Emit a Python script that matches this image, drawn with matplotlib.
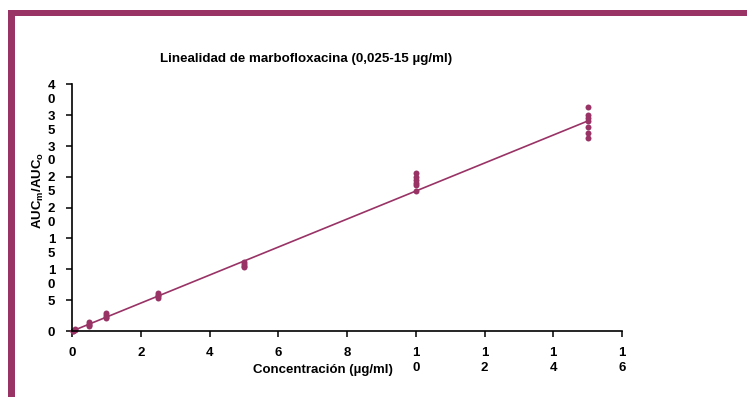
import matplotlib.pyplot as plt
import numpy as np
from matplotlib.patches import Rectangle
from matplotlib.transforms import ScaledTranslation

plt.rcParams['font.family'] = ['Liberation Sans', 'DejaVu Sans']
plt.rcParams['font.weight'] = 'bold'
plt.rcParams['mathtext.fontset'] = 'custom'
plt.rcParams['mathtext.rm'] = 'Liberation Sans:bold'
plt.rcParams['mathtext.bf'] = 'Liberation Sans:bold'

MAROON = '#993366'

# concentration levels (µg/ml) and replicate AUC ratios
conc_levels = [0.025, 0.1, 0.5, 1, 2.5, 5, 10, 15]
ratios = [
    [0.05, 0.08],
    [0.18, 0.25],
    [0.8, 1.0, 1.2, 1.4],
    [2.1, 2.3, 2.6, 2.9],
    [5.3, 5.6, 5.9, 6.2],
    [10.3, 10.6, 10.9, 11.2],
    [22.6, 23.6, 24.0, 24.5, 25.0, 25.6],
    [31.2, 32.1, 33.0, 34.0, 34.5, 35.0, 36.2],
]

# linear trend line
trend_slope = 2.268
trend_intercept = -0.02

x_ticks = [0, 2, 4, 6, 8, 10, 12, 14, 16]
x_labels = ['0', '2', '4', '6', '8', '1\n0', '1\n2', '1\n4', '1\n6']
y_ticks = [0, 5, 10, 15, 20, 25, 30, 35, 40]
y_labels = ['0', '5', '1\n0', '1\n5', '2\n0', '2\n5', '3\n0', '3\n5', '4\n0']

x = np.concatenate([[c] * len(r) for c, r in zip(conc_levels, ratios)])
y = np.concatenate(ratios)
x_fit = np.array([0, max(conc_levels)])

fig = plt.figure(figsize=(7.47, 4.07), dpi=100)
ax = fig.add_axes([72 / 747, 1 - 331 / 407, 550 / 747, 247 / 407])

ax.plot(x_fit, trend_slope * x_fit + trend_intercept, color=MAROON, lw=1.2,
        clip_on=False)
ax.plot(x, y, 'o', color=MAROON, ms=4.3, mec='none', clip_on=False)

ax.set_xlim(0, 16)
ax.set_ylim(0, 40)
for side in ['top', 'right']:
    ax.spines[side].set_visible(False)
for side in ['left', 'bottom']:
    ax.spines[side].set_linewidth(1.2)

ax.set_xticks(x_ticks, x_labels)
ax.set_yticks(y_ticks, y_labels)
ax.tick_params(direction='out', length=4, width=1.1, labelsize=9.5, pad=7.5)
ax.tick_params(axis='y', pad=8)
for lab in ax.get_xticklabels():
    lab.set_linespacing(1.35)

# first line of each y label sits level with its tick
shift = ScaledTranslation(0, 3 / 72, fig.dpi_scale_trans)
for lab in ax.get_yticklabels():
    lab.set_va('top')
    lab.set_transform(lab.get_transform() + shift)

ax.set_xlabel('Concentración (µg/ml)', fontsize=9.5, fontweight='bold')
ax.xaxis.set_label_coords(0.456, -0.135)
fig.text(38 / 747, 1 - 190 / 407, r'AUC$_\mathbf{m}$/AUC$_\mathbf{o}$',
         rotation=90, ha='center', va='center', fontsize=9.5, fontweight='bold')

ax.set_title('Linealidad de marbofloxacina (0,025-15 µg/ml)',
             fontsize=9.6, fontweight='bold', x=(306 - 72) / 550, y=1.0, pad=15.5)

# frame strips along the top and left edges
fig.patches.append(Rectangle((8 / 747, 1 - 16 / 407), 739 / 747, 6 / 407,
                             transform=fig.transFigure, color=MAROON, lw=0))
fig.patches.append(Rectangle((8 / 747, 1 - 397 / 407), 7 / 747, 387 / 407,
                             transform=fig.transFigure, color=MAROON, lw=0))

fig.savefig('out.png', dpi=100)
